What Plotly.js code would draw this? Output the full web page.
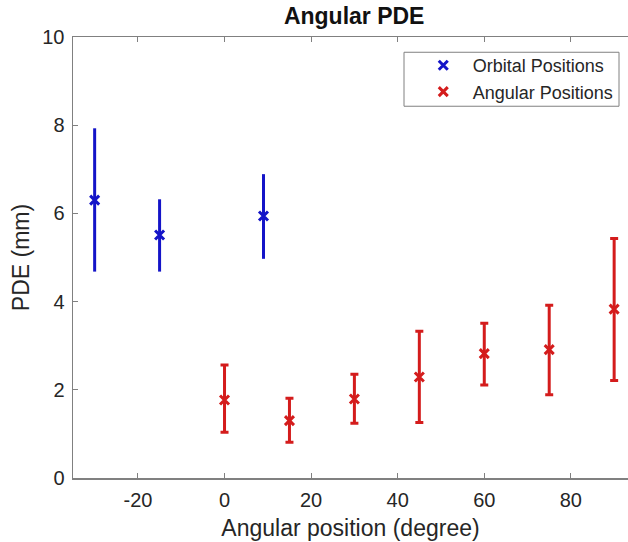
<!DOCTYPE html>
<html><head><meta charset="utf-8">
<script src="https://cdn.plot.ly/plotly-3.0.1.min.js"></script>
<style>html,body{margin:0;padding:0;background:#fff}#c{width:628px;height:542px}</style>
</head><body><div id="c"></div>
<script>
const orbitalX = [-30, -15, 9];
const orbitalY = [6.30, 5.51, 5.94];
const orbitalUpper = [7.93, 6.32, 6.89];
const orbitalLower = [4.68, 4.68, 4.97];

const angularX = [0, 15, 30, 45, 60, 75, 90];
const angularY = [1.77, 1.30, 1.79, 2.29, 2.82, 2.91, 3.83];
const angularUpper = [2.56, 1.81, 2.35, 3.33, 3.51, 3.92, 5.43];
const angularLower = [1.04, 0.81, 1.24, 1.26, 2.11, 1.89, 2.21];

const xTicks = [-20, 0, 20, 40, 60, 80];
const yTicks = [0, 2, 4, 6, 8, 10];

function diff(a, b) { return a.map((v, i) => v - b[i]); }

const blue = '#1414c8';
const red = '#d41c1c';

const traces = [
  {
    x: orbitalX, y: orbitalY, name: 'Orbital Positions', type: 'scatter', mode: 'markers',
    marker: {symbol: 'x-thin-open', size: 9, color: blue, line: {color: blue, width: 3}},
    error_y: {type: 'data', symmetric: false, array: diff(orbitalUpper, orbitalY),
      arrayminus: diff(orbitalY, orbitalLower), color: blue, thickness: 3, width: 0}
  },
  {
    x: angularX, y: angularY, name: 'Angular Positions', type: 'scatter', mode: 'markers',
    marker: {symbol: 'x-thin-open', size: 9, color: red, line: {color: red, width: 3}},
    error_y: {type: 'data', symmetric: false, array: diff(angularUpper, angularY),
      arrayminus: diff(angularY, angularLower), color: red, thickness: 3, width: 4}
  }
];

const fam = '"Liberation Sans", Arial, sans-serif';
const txt = '#262626';

const layout = {
  width: 628, height: 542,
  margin: {l: 73, r: 0, t: 37, b: 64},
  paper_bgcolor: '#fff', plot_bgcolor: '#fff',
  font: {family: fam, color: txt},
  title: {text: '<b>Angular PDE</b>', font: {size: 23, family: fam, color: '#111'},
    x: 0.564, xanchor: 'center', y: 0.97, yanchor: 'middle'},
  showlegend: true,
  legend: {x: 0.614, y: 0.9773, xanchor: 'left', yanchor: 'top',
    borderwidth: 0, bgcolor: 'rgba(0,0,0,0)', itemwidth: 49,
    font: {size: 18, family: fam, color: txt}, tracegroupgap: 0},
  shapes: [{type: 'rect', xref: 'paper', yref: 'paper', x0: 0.5964, x1: 0.9838, y0: 0.843, y1: 0.9654,
    line: {color: '#808080', width: 1}, fillcolor: 'rgba(0,0,0,0)', layer: 'above'}],
  xaxis: {
    range: [-35, 93.2], tickvals: xTicks, ticktext: xTicks.map(String),
    ticks: 'inside', ticklen: 5, tickwidth: 1, tickcolor: '#808080',
    showline: true, linecolor: '#808080', linewidth: 1.5, mirror: 'ticks',
    showgrid: false, zeroline: false, ticklabelstandoff: 3,
    tickfont: {size: 20, family: fam, color: txt},
    title: {text: 'Angular position (degree)', font: {size: 23, family: fam, color: txt}, standoff: 10}
  },
  yaxis: {
    range: [0, 10], tickvals: yTicks, ticktext: yTicks.map(String),
    ticks: 'inside', ticklen: 5, tickwidth: 1, tickcolor: '#808080',
    showline: true, linecolor: '#808080', linewidth: 1.5,
    showgrid: false, zeroline: false, ticklabelstandoff: 3,
    tickfont: {size: 20, family: fam, color: txt},
    title: {text: 'PDE (mm)', font: {size: 23, family: fam, color: txt}, standoff: 6}
  }
};

Plotly.newPlot('c', traces, layout, {displayModeBar: false, staticPlot: true});
</script></body></html>
